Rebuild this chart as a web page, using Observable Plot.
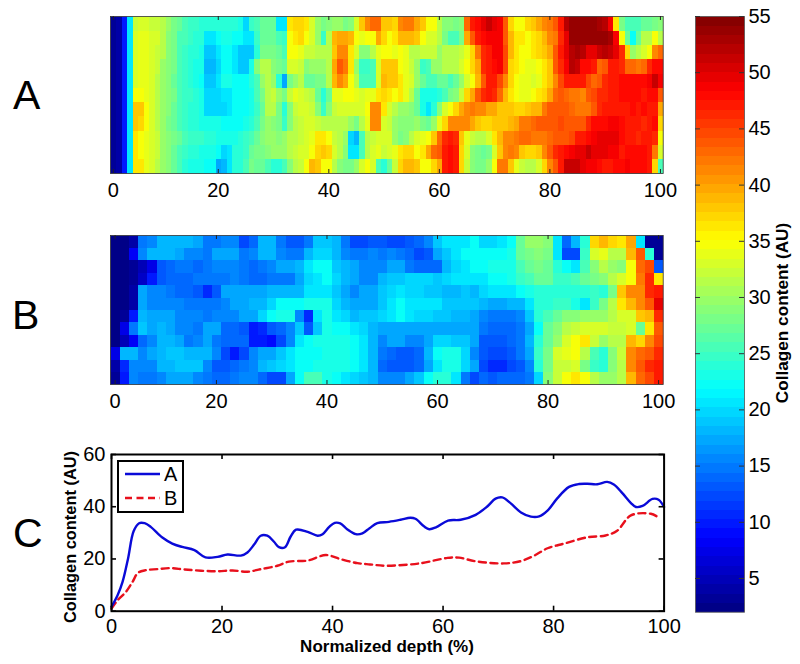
<!DOCTYPE html>
<html><head><meta charset="utf-8">
<script src="https://cdn.jsdelivr.net/npm/d3@7"></script>
<script src="https://cdn.jsdelivr.net/npm/@observablehq/plot@0.6"></script>
<style>
html,body{margin:0;padding:0;background:#fff}
#root{position:relative;width:800px;height:664px;overflow:hidden;font-family:"Liberation Sans",Arial,sans-serif;color:#000}
.p{position:absolute}
.letter{position:absolute;font-size:41px;line-height:41px}
.bold{position:absolute;font-weight:bold;font-size:17.2px;white-space:nowrap;line-height:17px}
svg{display:block}
</style></head><body><div id="root"></div>
<script>
const rowsA = [
[3,4,10,21,32,33,33,32,32,31,30,28,27,26,25,25,24,24,24,24,24,24,24,23,20,25,26,27,27,27,21,21,36,37,37,36,33,30,28,29,30,30,28,29,33,38,41,43,43,38,38,37,41,42,42,40,38,35,35,31,29,29,28,29,43,47,48,50,51,50,49,44,37,35,35,37,38,40,41,42,44,47,52,54,54,54,54,54,53,52,49,36,28,26,26,26,27,27,28,29],
[3,4,10,21,33,34,34,33,33,31,29,28,26,26,25,24,24,21,21,22,23,23,22,22,21,21,25,27,27,27,26,25,35,36,37,35,33,30,25,31,39,40,40,39,35,34,35,35,40,37,35,36,39,39,39,38,35,33,33,31,28,26,26,28,40,44,47,48,49,49,49,44,39,36,36,35,36,37,39,41,42,46,50,54,54,54,54,54,54,54,53,49,35,27,22,27,31,31,35,31],
[3,4,10,21,33,34,34,33,32,31,29,28,26,25,24,24,23,19,19,21,22,22,21,19,19,19,24,28,28,28,27,26,35,35,34,32,32,31,31,31,38,41,41,36,33,29,29,31,34,35,35,34,35,34,31,31,32,32,32,30,31,31,31,32,34,37,42,46,47,49,49,45,39,36,35,35,36,37,38,40,44,47,50,52,53,52,50,50,51,52,51,50,46,37,30,31,33,35,41,43],
[3,4,10,21,33,34,34,33,32,30,29,28,26,25,24,23,23,18,18,20,22,22,21,19,19,23,29,31,31,29,28,27,33,33,32,29,30,30,30,31,40,44,42,36,30,25,25,26,33,38,38,38,35,34,32,30,25,26,30,30,31,31,31,33,35,37,40,46,47,48,49,45,37,36,35,34,34,35,36,38,44,46,49,52,51,48,48,47,43,44,47,47,46,43,43,42,43,46,48,48],
[3,4,10,21,33,34,34,33,31,30,29,27,26,25,24,23,22,19,19,21,23,23,22,22,22,24,26,30,31,30,24,17,28,30,31,27,27,28,28,31,39,41,40,35,31,26,26,26,33,39,38,38,36,34,33,30,27,26,26,27,27,26,27,30,33,35,39,44,47,47,45,41,37,35,34,34,33,34,36,38,41,45,47,47,47,47,45,43,44,46,47,47,48,48,48,48,48,49,51,49],
[3,4,10,21,35,35,34,33,31,30,29,28,26,25,25,24,23,20,20,20,21,21,22,22,22,23,26,28,31,32,30,28,32,34,33,32,31,27,24,27,34,34,35,35,34,33,34,34,36,37,36,35,36,34,31,27,23,23,23,24,26,28,29,32,37,40,44,46,47,46,43,39,36,35,34,34,35,36,37,40,43,44,43,42,42,41,44,45,46,46,47,47,48,48,48,48,47,48,48,44],
[3,4,10,21,38,38,35,33,31,30,29,27,26,25,24,24,23,20,20,20,20,21,22,22,22,23,25,27,31,31,28,24,29,32,33,33,32,29,25,29,32,33,33,33,33,33,35,41,41,36,33,31,30,30,29,27,23,21,24,29,33,35,37,40,41,42,41,41,40,40,38,38,38,37,37,38,39,39,42,44,44,44,44,43,42,42,42,44,46,47,47,47,47,47,48,47,48,47,47,40],
[3,4,10,21,38,37,35,33,31,30,28,27,26,25,24,24,23,23,23,23,22,22,22,22,23,24,26,28,30,29,28,25,29,31,32,33,33,32,31,31,31,31,31,30,28,31,34,41,41,33,32,30,29,29,29,30,28,27,30,34,37,41,41,41,41,40,38,37,37,38,38,38,39,40,42,42,43,44,44,44,44,45,44,44,44,44,46,48,48,48,49,49,48,47,47,47,46,47,48,37],
[3,4,10,21,36,35,34,33,32,30,29,28,27,26,25,25,25,24,24,23,23,23,23,24,25,26,27,29,30,30,29,30,31,31,32,33,34,36,36,35,32,31,30,20,18,26,31,32,33,33,33,30,28,29,31,33,34,35,38,43,46,47,46,38,34,32,31,31,33,36,39,41,41,42,43,43,42,42,42,43,44,44,44,45,47,47,48,49,50,50,50,50,48,47,47,46,47,47,46,35],
[3,4,10,21,36,35,34,33,32,30,29,27,26,25,24,24,23,23,23,22,20,21,24,24,25,27,28,28,29,30,30,30,31,32,33,33,35,37,38,37,33,31,29,21,21,26,31,33,34,32,33,34,36,37,37,35,36,40,43,44,47,48,47,37,33,29,28,27,28,33,38,41,42,41,38,37,37,38,41,44,46,47,48,49,50,50,51,50,50,50,49,49,47,48,48,48,48,47,42,33],
[3,4,10,21,36,36,34,33,31,30,29,27,26,24,23,23,23,22,22,17,18,21,24,24,26,28,27,27,26,24,24,26,29,31,32,35,39,38,35,35,31,29,28,28,30,33,35,33,26,24,27,32,37,39,39,38,35,35,37,40,47,48,47,37,32,29,28,28,30,35,42,42,38,34,32,31,31,33,37,41,44,47,51,51,51,50,49,49,48,47,47,48,48,49,48,48,48,47,37,26]
];
const rowsB = [
[2.5,2.5,4,15,16,18,18,18,18,17,15,15,16,16,12,14,18,18,15,13,13,15,19,19,18,15,12,12,13,13,12,12,13,14,16,19,21,21,21,22,20,20,21,22,27,30,30,29,21,14,18,24,37,39,37,36,40,21,3,3],
[2.5,2.5,8,16,18,18,18,17,16,16,15,17,17,17,15,16,18,18,16,15,15,18,20,20,18,16,15,15,16,15,16,15,14,12,13,17,19,21,22,22,22,22,22,23,27,28,29,28,21,12,12,25,33,34,31,31,39,44,24,3],
[2.5,2.5,3,5,7,13,14,15,15,14,15,16,16,16,15,14,15,16,17,17,18,21,22,22,19,18,17,16,16,16,17,17,15,14,14,14,18,20,21,22,22,23,23,23,26,27,28,27,24,22,21,26,29,31,30,29,35,43,45,13],
[2.5,2.5,3,6,10,13,14,14,14,15,15,15,15,16,15,14,14,15,15,15,17,20,21,22,20,18,17,16,16,18,19,19,20,20,20,19,20,21,21,21,21,22,22,23,25,26,27,27,25,25,26,27,28,29,31,33,35,42,46,36],
[2.5,2.5,4,17,16,16,15,14,14,13,11,13,17,17,17,17,17,18,18,18,18,21,21,21,19,17,16,17,17,19,20,21,20,20,19,19,18,18,19,18,20,21,21,21,22,23,24,24,24,24,24,24,25,24,28,38,41,41,46,47],
[2.5,2.5,4,17,16,16,16,16,15,15,15,15,16,17,17,18,18,20,22,22,22,23,23,23,20,18,17,17,17,19,21,22,21,21,21,21,19,19,19,19,18,17,17,18,18,21,24,24,25,25,23,21,25,28,31,36,39,41,44,50],
[2.5,3,10,18,17,17,17,16,16,16,15,16,16,16,17,17,20,22,23,23,16,11,21,23,21,20,18,19,19,20,21,22,21,20,20,19,19,18,18,17,16,15,15,15,16,19,24,26,27,29,29,30,30,30,31,33,33,38,39,46],
[2.5,7,15,19,17,18,17,16,16,15,17,17,14,14,13,10,11,13,14,16,19,13,19,23,22,22,21,20,18,17,17,17,17,17,17,17,17,17,17,17,15,14,14,14,15,17,22,27,29,31,32,33,33,33,32,32,33,27,36,44],
[2.5,5,8,14,16,18,18,17,15,16,17,15,14,14,14,10,10,9,12,16,21,22,23,23,23,23,22,21,18,16,17,17,16,16,17,20,20,19,19,17,13,13,13,14,15,18,24,27,30,33,35,36,32,30,31,31,39,37,41,45],
[7,18,18,16,17,18,19,19,18,18,18,16,12,10,12,16,17,17,19,21,22,22,22,23,23,23,22,21,18,15,14,13,13,14,18,22,23,23,20,16,13,12,12,13,15,17,25,28,33,34,35,31,26,24,29,32,41,43,44,46],
[4,11,16,16,16,18,18,19,19,19,16,13,13,14,15,16,18,19,20,21,22,22,23,23,23,23,22,21,18,14,13,13,13,14,17,21,23,23,20,17,12,11,11,12,13,16,24,28,32,32,33,28,25,24,29,31,41,44,46,47],
[3,10,16,15,15,16,17,17,17,16,15,14,14,15,16,16,14,12,12,17,22,26,26,23,22,21,20,19,18,16,16,16,17,19,22,24,24,21,15,12,14,13,14,14,14,15,20,29,32,35,36,35,31,30,30,31,39,43,45,47]
];
const depthA = [0,1.1,2,3,4,5,6,7.1,9.2,11,12.8,15,17,19.2,21,23.4,24.6,25.8,27,28.2,29.4,30.3,31.4,32.4,33.4,35.5,37.3,38.2,39.4,40.4,41.4,42.7,44.2,45.4,46.7,48.1,50.2,52.3,54.1,55,56.6,57.5,58.7,60.9,63.2,65.9,68,69.5,70.7,72.2,74.1,75.9,77.4,78.9,80.7,82.8,84.6,86.1,87.9,89.7,90.9,92.4,94,94.9,96.1,97.9,99,100];
const contentA = [1.7,6.1,11.2,20.2,30.6,33.7,33.7,32.3,28.2,25.9,24.6,23.4,20.6,20.8,21.7,21.3,22.5,25.5,28.9,28.9,26.6,24.5,24.5,28.5,31.2,30.4,28.9,29.5,32.3,33.8,33.6,31.3,29.5,29.8,31.8,33.7,34.2,35,35.8,35.4,32.4,31.4,32.1,34.7,35,36.9,40.1,43.1,43.6,41.4,37.8,36.2,36.3,38.5,43.3,47.6,48.7,48.8,48.6,49.5,48.5,45.3,41.4,39.9,40.3,43,42.7,39.9];
const depthB = [0,1.1,2.6,3.8,4.8,6.2,8.3,10.7,13.1,16.2,19.2,21.9,24.6,27,30,32.1,35.5,38.8,41.5,44.5,46.8,49.6,55.7,60.8,62.9,65.9,71,74.1,76.5,78.9,81.9,86.1,89.4,91.5,94,97.6,99];
const contentB = [1,4.2,7.4,11.2,14.7,15.7,16.1,16.5,16,15.5,15.3,15.6,15.1,16.1,17.4,19,19.4,21.5,19.9,18.4,17.9,17.4,18.3,20.4,20.5,19.1,18.3,19.2,21.3,24.1,25.9,28.3,29,30.8,36.7,37.3,35.9];
const tickColsA = [1,20,40,60,80,100];
const tickColsB = [1,12,24,36,48,60];
const depthTicks = ["0","20","40","60","80","100"];
const contentTicks = [0,20,40,60];
const barTicks = [5,10,15,20,25,30,35,40,45,50,55];
const barMin = 2, barMax = 55, levels = 64;
const titleAU = "Collagen content (AU)", titleDepth = "Normalized depth (%)";

rowsA.forEach((r,i)=>{if(r.length!==100)throw new Error("A row "+i+" "+r.length)});
rowsB.forEach((r,i)=>{if(r.length!==60)throw new Error("B row "+i+" "+r.length)});
if(depthA.length!==contentA.length||depthB.length!==contentB.length)throw new Error("line "+depthA.length+" "+contentA.length+" "+depthB.length+" "+contentB.length);

const c01 = v => Math.round(255*Math.max(0,Math.min(1,v)));
const jet = d3.range(levels).map(i=>{const t=(i+.5)/levels;
  return d3.rgb(c01(Math.min(4*t-1.5,4.5-4*t)),c01(Math.min(4*t-.5,3.5-4*t)),c01(Math.min(4*t+.5,2.5-4*t))).formatHex();});
const color = {type:"threshold",domain:d3.range(1,levels).map(i=>barMin+i*(barMax-barMin)/levels),range:jet};
const style = {fontFamily:'"Liberation Sans",Arial,sans-serif',fontSize:"20px",background:"transparent",color:"#000"};
const root = document.getElementById("root");
function place(el,left,top){el.classList.add("p");el.style.left=left+"px";el.style.top=top+"px";root.appendChild(el);}
function text(cls,s,left,top,extra){const d=document.createElement("div");d.className=cls;d.textContent=s;d.style.left=left+"px";d.style.top=top+"px";if(extra)Object.assign(d.style,extra);root.appendChild(d);return d;}

function heat(rows,ticks,top,h){
  const nc=rows[0].length,nr=rows.length;
  const p=Plot.plot({width:600,height:h+40,marginLeft:20,marginRight:600-20-552.7,marginTop:4,marginBottom:36,style,color,
    x:{domain:[.5,nc+.5]},y:{domain:[.5,nr+.5],reverse:true,axis:null},
    marks:[
      Plot.raster(rows.flat(),{width:nc,height:nr,x1:.5,x2:nc+.5,y1:.5,y2:nr+.5,fill:d=>d,imageRendering:"pixelated"}),
      Plot.frame({stroke:"#333",strokeWidth:.8}),
      Plot.ruleX(ticks,{x:d=>d,insetTop:h-4,stroke:"#222",strokeWidth:1}),
      Plot.ruleX(ticks,{x:d=>d,insetBottom:h-4,stroke:"#222",strokeWidth:1}),
      Plot.axisX(ticks,{anchor:"bottom",tickSize:0,tickPadding:9,fill:"#000",tickFormat:d=>depthTicks[ticks.indexOf(d)],label:null})
    ]});
  place(p,110.3-20,top-4);
}
heat(rowsA,tickColsA,16,157);
heat(rowsB,tickColsB,235,149);

const tickX = depthTicks.map(Number);
const cTop = 14, cH = 156.7, cW = 552.6;
const c = Plot.plot({width:620,height:210,marginLeft:50,marginRight:620-50-cW,marginTop:cTop,marginBottom:210-cTop-cH,style,
  x:{domain:[0,100]},y:{domain:[0,60]},
  marks:[
    Plot.line(depthB.map((d,i)=>[d,contentB[i]]),{x:"0",y:"1",stroke:"#e8101c",strokeWidth:2.4,strokeDasharray:"7 4.5",curve:"catmull-rom"}),
    Plot.line(depthA.map((d,i)=>[d,contentA[i]]),{x:"0",y:"1",stroke:"#0a0ad8",strokeWidth:2.4,curve:"catmull-rom"}),
    Plot.ruleX(tickX,{x:d=>d,insetTop:cH-5,stroke:"#000",strokeWidth:1.6}),
    Plot.ruleX(tickX,{x:d=>d,insetBottom:cH-5,stroke:"#000",strokeWidth:1.6}),
    Plot.ruleY(contentTicks,{y:d=>d,insetLeft:cW-5,stroke:"#000",strokeWidth:1.6}),
    Plot.ruleY(contentTicks,{y:d=>d,insetRight:cW-5,stroke:"#000",strokeWidth:1.6}),
    Plot.frame({stroke:"#000",strokeWidth:2}),
    Plot.axisX(tickX,{anchor:"bottom",tickSize:0,tickPadding:8,fill:"#000",label:null}),
    Plot.axisY(contentTicks,{anchor:"left",tickSize:0,tickPadding:6,fill:"#000",label:null})
  ]});
place(c,110.7-50,454.3-cTop);

const barW = 49, barTop = 14;
const bar = Plot.plot({width:100,height:630,marginLeft:5,marginRight:100-5-barW,marginTop:barTop,marginBottom:630-barTop-595.7,style,color,
  x:{domain:[0,1],axis:null},y:{domain:[barMin,barMax]},
  marks:[
    Plot.raster(jet.map((_,i)=>barMin+(i+.5)*(barMax-barMin)/levels).reverse(),{width:1,height:levels,x1:0,x2:1,y1:barMax,y2:barMin,fill:d=>d,imageRendering:"pixelated"}),
    Plot.frame({stroke:"#555",strokeWidth:.8}),
    Plot.ruleY(barTicks,{y:d=>d,insetLeft:barW-5,stroke:"#333",strokeWidth:1}),
    Plot.ruleY(barTicks,{y:d=>d,insetRight:barW-5,stroke:"#333",strokeWidth:1}),
    Plot.axisY(barTicks,{anchor:"right",tickSize:0,tickPadding:4,fill:"#000",label:null})
  ]});
place(bar,695.3-5,16-barTop);

const leg=d3.create("svg").attr("width",67).attr("height",53).style("font-family",style.fontFamily).style("font-size","20px");
leg.append("rect").attr("x",1).attr("y",1).attr("width",65).attr("height",51).attr("fill","#fff").attr("stroke","#000").attr("stroke-width",2);
leg.append("line").attr("x1",8).attr("x2",43).attr("y1",14).attr("y2",14).attr("stroke","#0a0ad8").attr("stroke-width",2.4);
leg.append("line").attr("x1",8).attr("x2",43).attr("y1",38).attr("y2",38).attr("stroke","#e8101c").attr("stroke-width",2.4).attr("stroke-dasharray","7 4.5");
leg.append("text").attr("x",47).attr("y",21).text("A");
leg.append("text").attr("x",47).attr("y",45).text("B");
place(leg.node(),116.5,459.5);

text("letter","A",13,74.6);
text("letter","B",12,295);
text("letter","C",13,513);
text("bold",titleDepth,387,638,{transform:"translateX(-50%)",fontSize:"17px"});
text("bold",titleAU,70,537,{transform:"translate(-50%,-50%) rotate(-90deg)",fontSize:"16.4px"});
text("bold",titleAU,782,313,{transform:"translate(-50%,-50%) rotate(-90deg)"});
</script></body></html>
